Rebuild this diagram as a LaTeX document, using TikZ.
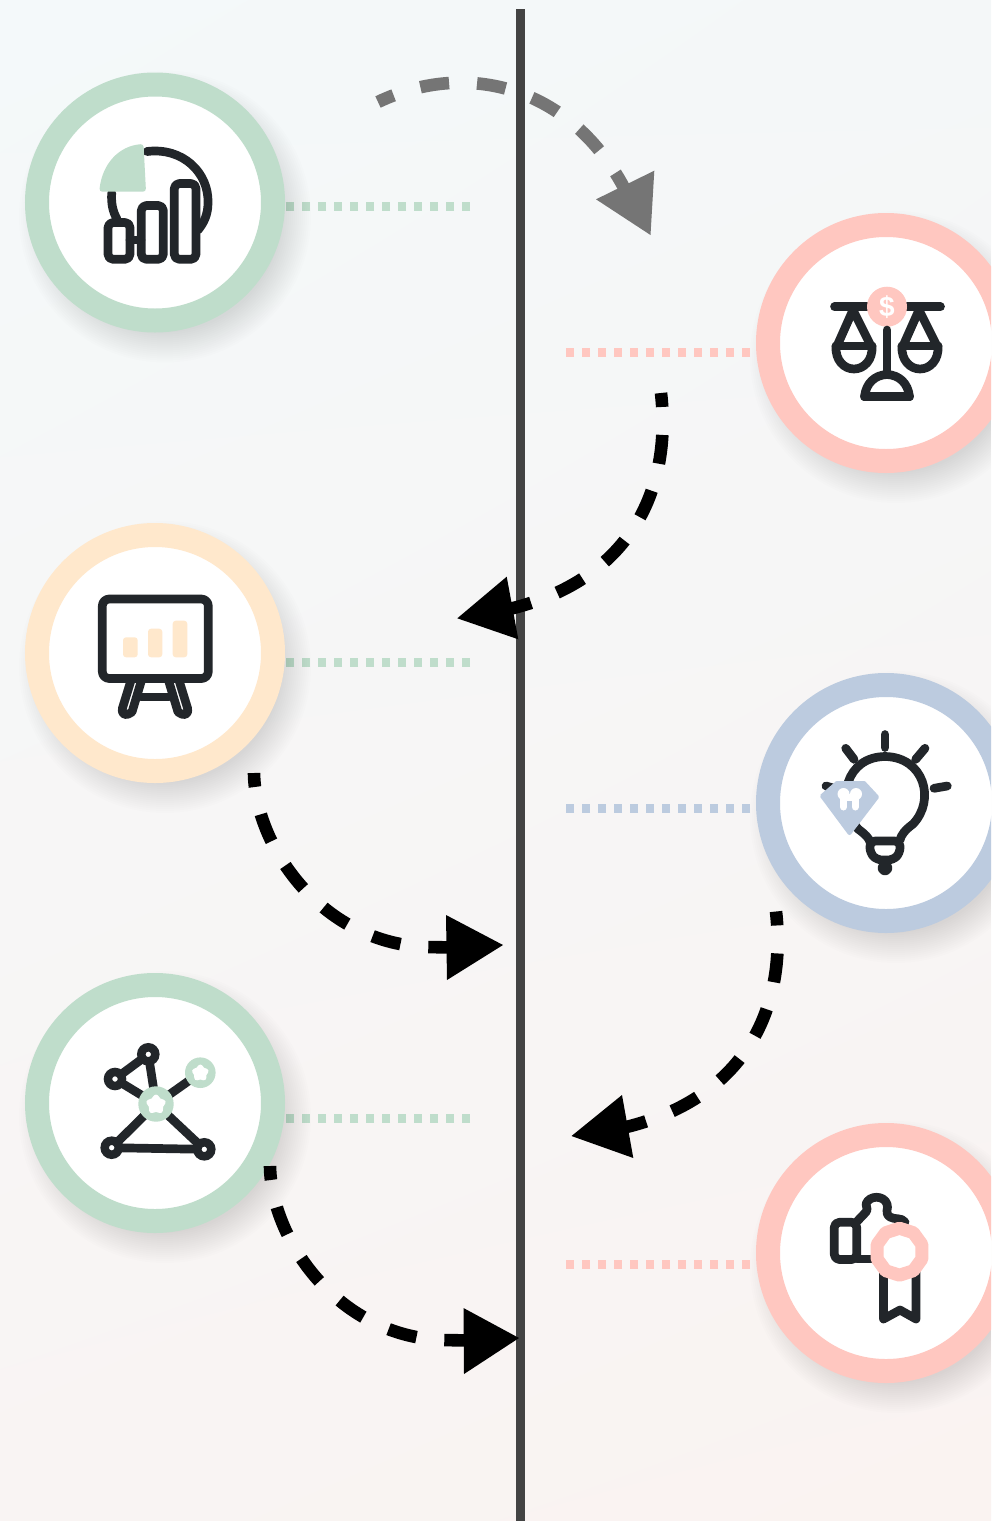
\documentclass[tikz,border=0pt]{standalone}
\usepackage{fontspec}
\setmainfont{Liberation Sans}
\usetikzlibrary{shapes.geometric,shadings}
\definecolor{ink}{HTML}{22262A}
\definecolor{greenc}{HTML}{BFDDCB}
\definecolor{pinkc}{HTML}{FFC7C0}
\definecolor{creamc}{HTML}{FFE8CC}
\definecolor{bluec}{HTML}{BCCBDF}
\definecolor{axisc}{HTML}{434343}
\definecolor{grayc}{HTML}{757575}
\definecolor{bgul}{RGB}{244,249,250}
\definecolor{bgur}{RGB}{244,247,248}
\definecolor{bgll}{RGB}{249,244,243}
\definecolor{bglr}{RGB}{250,243,241}
\tikzset{
  x=1pt,y=-1pt,
  ring/.style={circle,draw=#1,fill=white,line width=24pt,minimum size=236pt,inner sep=0pt,outer sep=0pt},
  iconline/.style={draw=ink,line width=8.7pt,line cap=round,line join=round},
  dotrow/.style={draw=#1,line width=8.5pt,dash pattern=on 8.3pt off 7.7pt},
  flow/.style={draw=#1,line width=12.6pt,dash pattern=on 29pt off 28pt},
  flowb/.style={flow=black,dash phase=15pt},
  softstar/.style={star,star points=5,star point ratio=1.55,fill=white,draw=white,line width=5pt,line join=round,inner sep=0pt,outer sep=0pt,minimum size=#1},
}
\newcommand{\softshadow}[2]{%
  \foreach \rr in {116,118,...,146}{\fill[black,opacity=0.009] (#1+10,#2+14) circle[radius=\rr];}}
\begin{document}
\begin{tikzpicture}
\clip (0,0) rectangle (991,1521);
\shade[upper left=bgul,upper right=bgur,lower left=bgll,lower right=bglr]
  (0,0) rectangle (991,1521);
% axis
\coordinate (axT) at (520.3,9);
\coordinate (axB) at (520.3,1521);
\draw[axisc,line width=8.5pt] (axT) -- (axB);
% dotted rows
\coordinate (d1a) at (285,206.5); \coordinate (d1b) at (470,206.5);
\coordinate (d2a) at (750,352.5); \coordinate (d2b) at (565,352.5);
\coordinate (d3a) at (285,662.5); \coordinate (d3b) at (470,662.5);
\coordinate (d4a) at (750,808.5); \coordinate (d4b) at (565,808.5);
\coordinate (d5a) at (285,1118.5); \coordinate (d5b) at (470,1118.5);
\coordinate (d6a) at (750,1264.5); \coordinate (d6b) at (565,1264.5);
\draw[dotrow=greenc] (d1b) -- (d1a);
\draw[dotrow=pinkc] (d2a) -- (d2b);
\draw[dotrow=greenc] (d3b) -- (d3a);
\draw[dotrow=bluec] (d4a) -- (d4b);
\draw[dotrow=greenc] (d5b) -- (d5a);
\draw[dotrow=pinkc] (d6a) -- (d6b);
% circles
\softshadow{155}{202.5}\softshadow{886}{343}\softshadow{155}{653}
\softshadow{886}{803}\softshadow{155}{1103}\softshadow{886}{1253}
\node[ring=greenc] (c1) at (155,202.5) {};
\node[ring=pinkc]  (c2) at (886,343) {};
\node[ring=creamc] (c3) at (155,653) {};
\node[ring=bluec]  (c4) at (886,803) {};
\node[ring=greenc] (c5) at (155,1103) {};
\node[ring=pinkc]  (c6) at (886,1253) {};
% icon 1
\draw[iconline] (147,151.5) .. controls (183,147) and (209,173) .. (208,203) .. controls (208,214) and (204,223) .. (198,230);
\draw[iconline] (111.7,193) .. controls (111,204) and (113,212) .. (117,219);
\draw[iconline,rounded corners=5pt] (108,222.5) rectangle (130,259.3);
\draw[iconline,rounded corners=5pt] (141.3,205.5) rectangle (163.3,259.3);
\draw[iconline,rounded corners=5pt] (174.3,183.5) rectangle (196,259.3);
\draw[iconline] (130,240) -- (141,240);
\fill[greenc,rounded corners=3pt] (143.5,144) .. controls (118,146) and (102,165) .. (99.3,191.7) -- (146,191.7) -- cycle;
% icon 2
\draw[iconline] (834.5,306.7) -- (940.5,306.7);
\node[circle,fill=pinkc,minimum size=40pt,inner sep=0pt,outer sep=0pt] (coin) at (887,306.7) {};
\node[text=white,font=\bfseries\fontsize{28}{28}\selectfont,inner sep=0pt] (dollar) at (887,307) {\$};
\draw[iconline] (887,330) -- (887,374);
\draw[iconline] (864.5,396.7) -- (909.5,396.7);
\draw[iconline] (864.5,396.7) .. controls (866,383) and (875,375) .. (887,374.5) .. controls (899,375) and (908,383) .. (909.5,396.7);
\foreach \px in {854,920}{
  \draw[iconline] (\px-17,346) -- (\px-1,310) -- (\px+17,346);
  \draw[iconline] (\px-18,346) -- (\px+18,346);
  \draw[iconline] (\px-18,346) .. controls (\px-19,360) and (\px-10,369) .. (\px,369) .. controls (\px+10,369) and (\px+19,360) .. (\px+18,346);
}
% icon 3
\draw[iconline,rounded corners=7pt] (102.3,599) rectangle (208.3,678.5);
\fill[creamc,rounded corners=3pt] (123,637.3) rectangle (137.7,657.3);
\fill[creamc,rounded corners=3pt] (148,628.7) rectangle (162.3,657.3);
\fill[creamc,rounded corners=3pt] (172.7,620.7) rectangle (187.3,657.3);
\draw[iconline] (130.5,682) -- (122.5,708) .. controls (121,716) and (127,716) .. (132,712) -- (141,682);
\draw[iconline] (179.5,682) -- (187.5,708) .. controls (189,716) and (183,716) .. (178,712) -- (169,682);
\draw[iconline] (141,697) -- (169,697);
% icon 4
\draw[iconline] (885,734.5) -- (885,747.5);
\draw[iconline] (845.7,748.3) -- (854,759.3);
\draw[iconline] (925,748.3) -- (915.7,759.3);
\draw[iconline] (934,788.3) -- (947.3,786);
\draw[iconline] (826,786) -- (833,788);
\draw[iconline] (858,829) .. controls (835,800) and (846,757) .. (885,756.5) .. controls (924,757) and (936,800) .. (913,824) .. controls (905,830) and (901,835) .. (900,840);
\draw[iconline] (858,829) .. controls (865,834) and (869,838) .. (870,842);
\draw[iconline,rounded corners=5pt] (870,841) -- (900,841) -- (900,853) -- (893,860) -- (877,860) -- (870,853) -- cycle;
\draw[iconline] (885,868) circle[radius=3];
\fill[bluec,draw=bluec,line width=4pt,line join=round] (837,783) -- (864,783) -- (877,797) -- (849.5,833) -- (822,796) -- cycle;
\draw[white,line width=7pt,line cap=round] (843.5,795) -- (843.5,807) (855,795) -- (855,807);
\draw[white,line width=7pt,line cap=round] (843,797) -- (855.5,797);
\fill[white] (843.5,794) circle[radius=6] (856,794) circle[radius=6];
% icon 5
\coordinate (nA) at (148.3,1054.3); \coordinate (nB) at (115,1079);
\coordinate (nC) at (111.7,1147.7); \coordinate (nD) at (204.3,1149.3);
\coordinate (nE) at (156,1104); \coordinate (nF) at (200.3,1072.7);
\draw[iconline] (nA) -- (nB) -- (nE) -- (nA) (nE) -- (nF) (nE) -- (nC) -- (nD) -- (nE);
\foreach \n/\rr in {nA/7,nB/7,nC/7,nD/7}{\draw[draw=ink,fill=white,line width=8.5pt] (\n) circle[radius=\rr];}
\fill[greenc] (nE) circle[radius=17.7];
\fill[greenc] (nF) circle[radius=15.3];
\node[softstar=15pt] (starE) at (156,1104.5) {};
\node[softstar=12pt] (starF) at (200.3,1073) {};
% icon 6
\draw[iconline,rounded corners=5pt] (834.3,1222.3) rectangle (856.7,1259.5);
\draw[iconline] (856.5,1222) -- (866,1212) .. controls (869,1208) and (865,1207) .. (866,1204) .. controls (869,1195) and (884,1195) .. (887,1204) .. controls (889,1208) and (884,1213) .. (890,1217) .. controls (895,1220) and (901,1217) .. (905,1222);
\draw[iconline] (857,1259) -- (875,1259);
\draw[iconline] (883.5,1270) -- (883.5,1319) -- (900,1310) -- (916,1319) -- (916,1270);
\node[regular polygon,regular polygon sides=10,shape border rotate=18,draw=pinkc,fill=white,line width=13pt,line join=round,minimum size=47pt,inner sep=0pt,outer sep=0pt] (badge) at (899.5,1251.7) {};
% flows
\coordinate (f1s) at (378,102); \coordinate (f1e) at (632,204);
\coordinate (h1a) at (596,199.3); \coordinate (h1b) at (654.3,170.7); \coordinate (h1t) at (650.5,235);
\draw[flow=grayc,dash phase=12pt] (f1s) .. controls (470,58) and (580,88) .. (f1e);
\fill[grayc] (h1a) -- (h1b) -- (h1t) -- cycle;
\coordinate (f2s) at (661,393); \coordinate (f2e) at (505,610);
\coordinate (h2a) at (506.7,576.7); \coordinate (h2b) at (518.3,639.3); \coordinate (h2t) at (457.3,618.3);
\draw[flowb] (f2s) .. controls (672,490) and (630,582) .. (f2e);
\fill[black] (h2a) -- (h2b) -- (h2t) -- cycle;
\coordinate (f3s) at (254,773); \coordinate (f3m) at (425,947); \coordinate (f3e) at (455,947.5);
\coordinate (h3a) at (446,915); \coordinate (h3b) at (447,980); \coordinate (h3t) at (503,945);
\draw[flowb] (f3s) .. controls (255,845) and (320,942) .. (f3m) -- (f3e);
\fill[black] (h3a) -- (h3b) -- (h3t) -- cycle;
\coordinate (f4s) at (776,911.5); \coordinate (f4e) at (620,1128.5);
\coordinate (h4a) at (622,1095); \coordinate (h4b) at (633.3,1158); \coordinate (h4t) at (571.5,1136);
\draw[flowb] (f4s) .. controls (787,1008.5) and (745,1100.5) .. (f4e);
\fill[black] (h4a) -- (h4b) -- (h4t) -- cycle;
\coordinate (f5s) at (270,1166); \coordinate (f5m) at (441,1340); \coordinate (f5e) at (471,1340.5);
\coordinate (h5a) at (463.5,1308); \coordinate (h5b) at (464,1374); \coordinate (h5t) at (519,1338);
\draw[flowb] (f5s) .. controls (271,1238) and (336,1335) .. (f5m) -- (f5e);
\fill[black] (h5a) -- (h5b) -- (h5t) -- cycle;
\end{tikzpicture}
\end{document}
